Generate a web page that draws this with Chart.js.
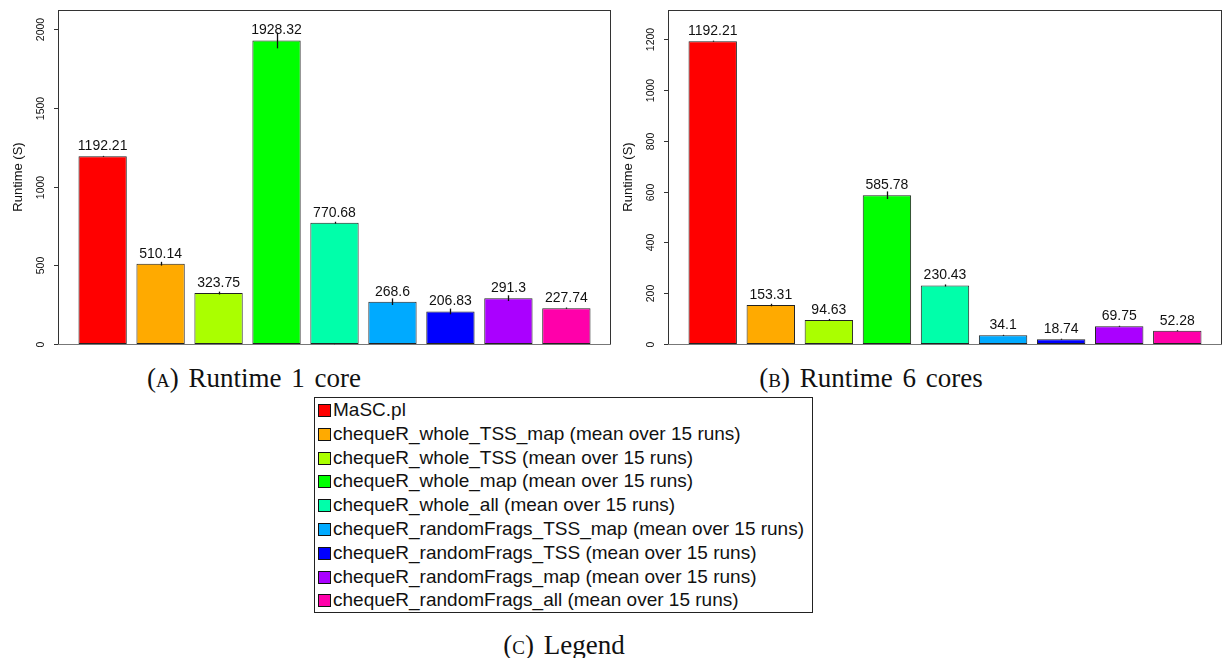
<!DOCTYPE html>
<html>
<head>
<meta charset="utf-8">
<script src="https://cdn.jsdelivr.net/npm/chart.js@4.4.1/dist/chart.umd.min.js"></script>
<style>
  body { margin: 0; background: #fff; }
  #page { position: relative; width: 1231px; height: 658px; overflow: hidden; }
  canvas { position: absolute; top: 0; }
  .cap {
    position: absolute; transform: translateX(-50%); white-space: nowrap;
    font-family: "Liberation Serif", "DejaVu Serif", serif; font-size: 27px;
    line-height: 27px; color: #111; word-spacing: 3px;
  }
  .sc { font-variant: small-caps; }
  #legend {
    position: absolute; left: 314px; top: 397px; width: 499px; height: 216px;
    box-sizing: border-box; border: 1px solid #222;
    font-family: "Liberation Sans", Arial, sans-serif; font-size: 19px; color: #111;
  }
  #legend .row { height: 23.8px; line-height: 23.8px; white-space: nowrap; }
  #legend .sw {
    display: inline-block; width: 11px; height: 11px; border: 1px solid #111;
    margin: 0 2px 0 3px; vertical-align: -1px;
  }
</style>
</head>
<body>
<div id="page">
  <canvas id="oneCore" width="615" height="350" style="left:0"></canvas>
  <canvas id="sixCores" width="616" height="350" style="left:615px"></canvas>
  <div class="cap" style="left:254px; top:365px">(<span class="sc">a</span>) Runtime 1 core</div>
  <div class="cap" style="left:871px; top:365px">(<span class="sc">b</span>) Runtime 6 cores</div>
  <div id="legend"></div>
  <div class="cap" style="left:564px; top:632px">(<span class="sc">c</span>) Legend</div>
</div>
<script>
// methods, in bar order
const categories = [
  "MaSC.pl",
  "chequeR_whole_TSS_map",
  "chequeR_whole_TSS",
  "chequeR_whole_map",
  "chequeR_whole_all",
  "chequeR_randomFrags_TSS_map",
  "chequeR_randomFrags_TSS",
  "chequeR_randomFrags_map",
  "chequeR_randomFrags_all"
];
const runsNote = " (mean over 15 runs)";
const colors = ["#FF0000", "#FFAA00", "#AAFF00", "#00FF00", "#00FFAA", "#00AAFF", "#0000FF", "#AA00FF", "#FF00AA"];

// runtimes in seconds, with spread over runs
const runtime1 = [1192.21, 510.14, 323.75, 1928.32, 770.68, 268.6, 206.83, 291.3, 227.74];
const spread1 = [3, 12, 9, 50, 6, 21, 18, 18, 4];
const runtime6 = [1192.21, 153.31, 94.63, 585.78, 230.43, 34.1, 18.74, 69.75, 52.28];
const spread6 = [2, 5, 4, 15, 4, 2, 2, 2, 2];

const ticks1 = [0, 500, 1000, 1500, 2000];
const ticks6 = [0, 200, 400, 600, 800, 1000, 1200];

const FONT = '"Liberation Sans", Arial, sans-serif';

// box, axis, error bars and value labels, R style
const framePlugin = {
  id: "frame",
  afterDatasetsDraw(chart, args, opts) {
    const ctx = chart.ctx;
    const a = chart.chartArea;
    const y = chart.scales.y;
    const ds = chart.data.datasets[0];
    const meta = chart.getDatasetMeta(0);
    ctx.save();

    // error bars
    ctx.strokeStyle = "#111";
    ctx.lineWidth = 1.3;
    meta.data.forEach((bar, i) => {
      const v = ds.data[i].y, e = ds.errors[i];
      const x = Math.round(bar.x) + 0.5;
      ctx.beginPath();
      ctx.moveTo(x, y.getPixelForValue(v + e));
      ctx.lineTo(x, y.getPixelForValue(v - e));
      ctx.stroke();
    });

    // value labels
    ctx.fillStyle = "#111";
    ctx.font = "14px " + FONT;
    ctx.textAlign = "center";
    ctx.textBaseline = "alphabetic";
    meta.data.forEach((bar, i) => {
      ctx.fillText(String(ds.data[i].y), bar.x, bar.y - 6);
    });

    // plot box
    ctx.lineWidth = 1;
    ctx.strokeStyle = "#333";
    ctx.strokeRect(a.left + 0.5, a.top + 0.5, a.right - a.left - 1, a.bottom - a.top);
    ctx.strokeStyle = "#777";
    ctx.beginPath();
    ctx.moveTo(a.left, a.bottom + 0.5);
    ctx.lineTo(a.right, a.bottom + 0.5);
    ctx.stroke();

    // y ticks, rotated like R's default las
    ctx.strokeStyle = "#333";
    ctx.font = "10.5px " + FONT;
    ctx.textBaseline = "middle";
    opts.ticks.forEach(t => {
      const py = Math.round(y.getPixelForValue(t)) + 0.5;
      ctx.beginPath();
      ctx.moveTo(a.left - 4, py);
      ctx.lineTo(a.left, py);
      ctx.stroke();
      ctx.save();
      ctx.translate(a.left - 17, py);
      ctx.rotate(-Math.PI / 2);
      ctx.fillText(String(t), 0, 0);
      ctx.restore();
    });

    // axis title
    ctx.font = "13px " + FONT;
    ctx.save();
    ctx.translate(a.left - 40, (a.top + a.bottom) / 2);
    ctx.rotate(-Math.PI / 2);
    ctx.fillText("Runtime (S)", 0, 0);
    ctx.restore();

    ctx.restore();
  }
};

function makeChart(id, values, spread, ticks, yMax, padding) {
  return new Chart(document.getElementById(id), {
    type: "bar",
    data: {
      datasets: [{
        // barplot positions: width 1, space 0.2
        data: values.map((v, i) => ({ x: 0.7 + 1.2 * i, y: v })),
        errors: spread,
        backgroundColor: colors,
        borderColor: "#222",
        borderWidth: 1,
        borderSkipped: false,
        barPercentage: 1 / 1.2,
        categoryPercentage: 1
      }]
    },
    options: {
      responsive: false,
      animation: false,
      layout: { padding: padding },
      plugins: {
        legend: { display: false },
        tooltip: { enabled: false },
        frame: { ticks: ticks }
      },
      scales: {
        x: { type: "linear", offset: false, min: -0.224, max: 11.224, display: false },
        y: { min: 0, max: yMax, display: false }
      }
    },
    plugins: [framePlugin]
  });
}

makeChart("oneCore", runtime1, spread1, ticks1, 2122, { left: 58, right: 4, top: 10, bottom: 6 });
makeChart("sixCores", runtime6, spread6, ticks6, 1315, { left: 53, right: 9, top: 10, bottom: 6 });

// shared legend
const legend = document.getElementById("legend");
categories.forEach((name, i) => {
  const row = document.createElement("div");
  row.className = "row";
  const sw = document.createElement("span");
  sw.className = "sw";
  sw.style.background = colors[i];
  row.appendChild(sw);
  row.appendChild(document.createTextNode(i === 0 ? name : name + runsNote));
  legend.appendChild(row);
});
</script>
</body>
</html>
